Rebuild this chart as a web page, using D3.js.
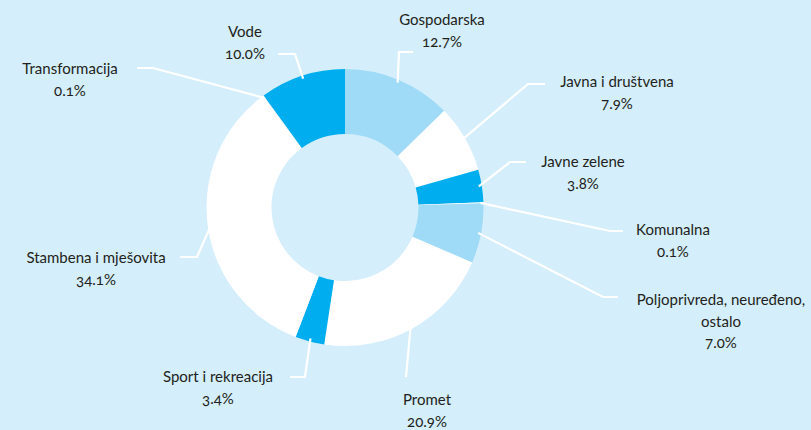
<!DOCTYPE html>
<html>
<head>
<meta charset="utf-8">
<script src="https://cdnjs.cloudflare.com/ajax/libs/d3/7.8.5/d3.min.js"></script>
<style>
    body { margin: 0; background: #d4eefb; }
    svg { display: block; }
    .lbl { font-family: Lato, "Open Sans", sans-serif; font-size: 15px; fill: #231f20; font-variant-numeric: oldstyle-nums; }
    .leader { fill: none; stroke: #ffffff; stroke-width: 2.2; }
</style>
</head>
<body>
<script>
// donut data, clockwise from 12 o'clock
var categories = ["Gospodarska", "Javna i društvena", "Javne zelene", "Komunalna",
    "Poljoprivreda, neuređeno, ostalo", "Promet", "Sport i rekreacija",
    "Stambena i mješovita", "Transformacija", "Vode"];
var values = [12.7, 7.9, 3.8, 0.1, 7.0, 20.9, 3.4, 34.1, 0.1, 10.0];
var valueLabels = ["12.7%", "7.9%", "3.8%", "0.1%", "7.0%", "20.9%", "3.4%", "34.1%", "0.1%", "10.0%"];
var nameLines = [["Gospodarska"], ["Javna i društvena"], ["Javne zelene"], ["Komunalna"],
    ["Poljoprivreda, neuređeno,", "ostalo"], ["Promet"], ["Sport i rekreacija"],
    ["Stambena i mješovita"], ["Transformacija"], ["Vode"]];
var sliceColors = ["#9fdbf6", "#ffffff", "#00aeef", "#ffffff", "#9fdbf6",
    "#ffffff", "#00aeef", "#ffffff", "#ffffff", "#00aeef"];

// label layout (centre x, first baseline, leader elbow, leader end x)
var labelX = [442, 617, 583, 673, 721, 427, 218, 96, 70, 245];
var labelY = [25, 87, 167, 235, 305, 405, 382, 263, 74, 37];
var elbows = [[399, 52], [528, 84], [510, 162], [610, 231], [603, 297],
    [406, 377], [305, 377], [197, 257], [153, 68], [295, 54]];
var lineEndX = [413, 545, 526, 623, 618, 406, 290, 180, 137, 278];

var width = 811, height = 430;
var cx = 345, cy = 207.5, outerR = 138.5, innerR = 73.5;
var lineH = 21.5;

var svg = d3.select("body").append("svg")
    .attr("width", width)
    .attr("height", height);

var pie = d3.pie().sort(null).value(function(d){ return d; });
var arcs = pie(values);

var arc = d3.arc().innerRadius(innerR).outerRadius(outerR);
var edgeArc = d3.arc().innerRadius(outerR - 3).outerRadius(outerR - 3);

var g = svg.append("g").attr("transform", "translate(" + cx + "," + cy + ")");

// leader lines go under the ring
svg.selectAll(".leader")
    .data(arcs)
    .enter()
    .append("path")
    .attr("class", "leader")
    .attr("d", function(d, i){
        var p = edgeArc.centroid(d);
        var line = d3.line();
        return line([[cx + p[0], cy + p[1]], elbows[i], [lineEndX[i], elbows[i][1]]]);
    });

g.selectAll(".slice")
    .data(arcs)
    .enter()
    .append("path")
    .attr("class", "slice")
    .attr("d", arc)
    .attr("fill", function(d, i){ return sliceColors[i]; });

var labels = svg.selectAll(".lbl")
    .data(categories)
    .enter()
    .append("text")
    .attr("class", "lbl")
    .attr("text-anchor", "middle");

labels.each(function(d, i){
    var t = d3.select(this);
    var rows = nameLines[i].concat([valueLabels[i]]);
    rows.forEach(function(r, k){
        t.append("tspan")
            .attr("x", labelX[i])
            .attr("y", labelY[i] + k * lineH)
            .text(r);
    });
});
</script>
</body>
</html>
